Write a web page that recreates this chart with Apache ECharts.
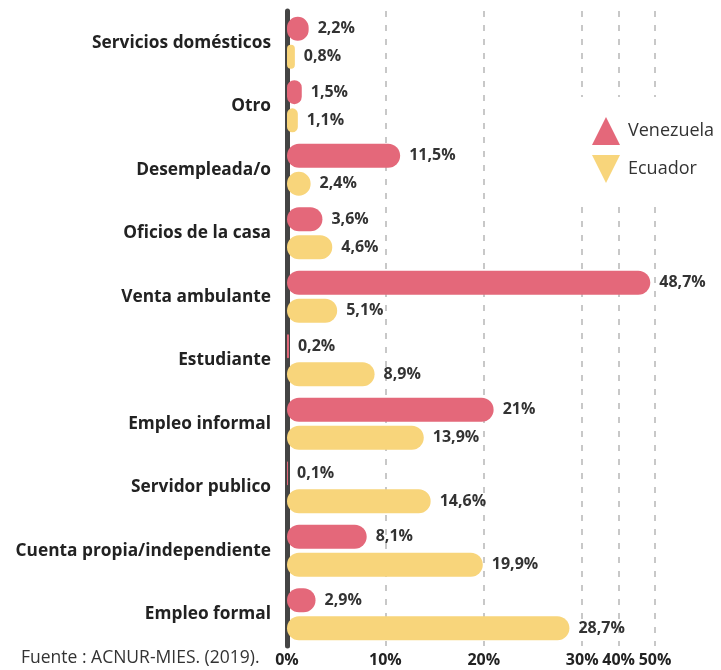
<!DOCTYPE html>
<html>
<head>
<meta charset="utf-8">
<script src="https://cdn.jsdelivr.net/npm/echarts@6/dist/echarts.min.js"></script>
<style>
html, body { margin: 0; padding: 0; background: #fff; }
#main { width: 721px; height: 670px; }
</style>
</head>
<body>
<div id="main"></div>
<script>
// categorias de arriba hacia abajo
var categorias = ['Servicios domésticos', 'Otro', 'Desempleada/o', 'Oficios de la casa',
  'Venta ambulante', 'Estudiante', 'Empleo informal', 'Servidor publico',
  'Cuenta propia/independiente', 'Empleo formal'];
var venezuela = [2.2, 1.5, 11.5, 3.6, 48.7, 0.2, 21, 0.1, 8.1, 2.9];
var ecuador = [0.8, 1.1, 2.4, 4.6, 5.1, 8.9, 13.9, 14.6, 19.9, 28.7];
var ticks = [0, 10, 20, 30, 40, 50];
var lineasExtra = [30, 40]; // lineas guia dentro del tramo comprimido

var fuente = '"Open Sans", Roboto, sans-serif';

function pct(v) {
  return String(v).replace('.', ',') + '%';
}

var myChart = echarts.init(document.getElementById('main'));

var guia = { color: '#c8c8c8', width: 2, type: [6, 8] };

var option = {
  animation: false,
  textStyle: { fontFamily: fuente },
  title: {
    text: 'Fuente : ACNUR-MIES. (2019).',
    left: 21, top: 649,
    padding: 0,
    textStyle: { fontSize: 17.5, fontWeight: 'normal', color: '#333', fontFamily: fuente }
  },
  legend: {
    orient: 'vertical',
    left: 578, top: 97,
    padding: [20, 2, 18, 14],
    backgroundColor: '#fff',
    itemWidth: 28, itemHeight: 28, itemGap: 10,
    textStyle: { fontSize: 18, color: '#333', fontFamily: fuente, padding: [0, 0, 0, 3] },
    data: [
      { name: 'Venezuela', icon: 'triangle' },
      { name: 'Ecuador', icon: 'path://M0,0L2,0L1,2Z' }
    ]
  },
  grid: { left: 287, right: 66, top: 11, bottom: 24, containLabel: false },
  xAxis: {
    type: 'value',
    min: 0, max: 50, interval: 10,
    breaks: [{ start: 30, end: 50, gap: 7.4 }],
    breakArea: { show: false },
    breakLabelLayout: { moveOverlap: false },
    axisLine: { show: false },
    axisTick: { show: false },
    axisLabel: {
      customValues: ticks,
      hideOverlap: false,
      formatter: function (v) { return v + '%'; },
      fontSize: 16, fontWeight: 'bold', color: '#222', margin: 6
    },
    splitLine: { show: true, lineStyle: guia }
  },
  yAxis: {
    type: 'category',
    inverse: true,
    data: categorias,
    axisLine: { show: true, lineStyle: { color: '#444', width: 5, cap: 'round' } },
    axisTick: { show: false },
    axisLabel: { fontSize: 17.3, fontWeight: 'bold', color: '#222', margin: 16 }
  },
  series: [
    {
      name: 'Venezuela',
      type: 'bar',
      data: venezuela,
      barWidth: 24,
      barGap: '17%',
      itemStyle: { color: '#e4687a', borderRadius: 12 },
      label: {
        show: true, position: 'right', distance: 9,
        formatter: function (p) { return pct(p.value); },
        fontSize: 16, fontWeight: 'bold', color: '#333'
      },
      markLine: {
        z: 1,
        silent: true,
        symbol: 'none',
        label: { show: false },
        lineStyle: guia,
        data: lineasExtra.map(function (v) { return { xAxis: v }; })
      }
    },
    {
      name: 'Ecuador',
      type: 'bar',
      data: ecuador,
      barWidth: 24,
      itemStyle: { color: '#f8d57b', borderRadius: 12 },
      label: {
        show: true, position: 'right', distance: 9,
        formatter: function (p) { return pct(p.value); },
        fontSize: 16, fontWeight: 'bold', color: '#333'
      }
    }
  ]
};

myChart.setOption(option);
</script>
</body>
</html>
